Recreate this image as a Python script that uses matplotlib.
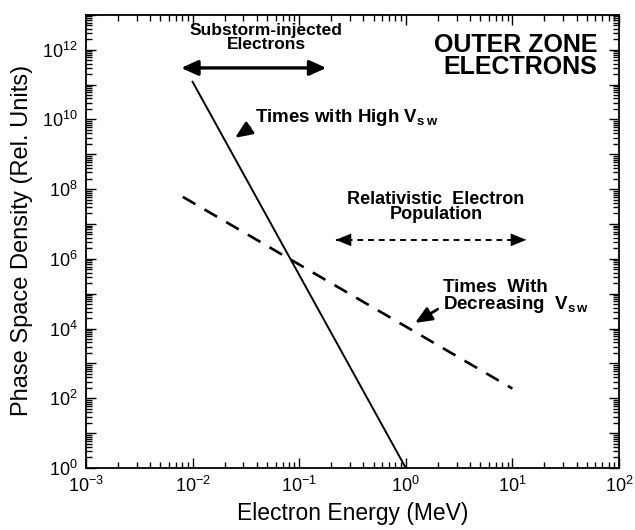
import matplotlib
matplotlib.use("Agg")
import matplotlib.pyplot as plt
import matplotlib.ticker as plticker
import numpy as np

plt.rcParams['font.family'] = ['Liberation Sans', 'DejaVu Sans']
plt.rcParams['mathtext.fontset'] = 'custom'
plt.rcParams['mathtext.rm'] = 'Liberation Sans'
plt.rcParams['mathtext.bf'] = 'Liberation Sans:bold'

# spectra (energy in MeV, phase space density in rel. units)
high_vsw_energy = [0.01, 1.0]
high_vsw_psd = [1.2e11, 1.0]
decr_vsw_energy = [0.0081, 10.0]
decr_vsw_psd = [6e7, 1.9e2]

# energy ranges marked by double arrows
substorm_range = [0.0078, 0.18]
substorm_level = 3e11
relativistic_range = [0.22, 13.5]
relativistic_level = 3.5e6

fig = plt.figure(figsize=(6.35, 5.3), dpi=100)
ax = fig.add_axes([0.1354, 0.117, 0.8394, 0.855])

ax.plot(high_vsw_energy, high_vsw_psd, color='black', lw=1.4)
ax.plot(decr_vsw_energy, decr_vsw_psd, color='black', lw=1.9, dashes=(5.5, 4))

ax.set_xscale('log')
ax.set_yscale('log')
ax.set_xlim(1e-3, 1e2)
ax.set_ylim(1e0, 1e13)

ax.xaxis.set_major_locator(plticker.LogLocator(base=10, numticks=20))
ax.xaxis.set_minor_locator(plticker.LogLocator(base=10, subs=np.arange(2, 10), numticks=50))
ax.yaxis.set_major_locator(plticker.LogLocator(base=10, numticks=30))
ax.yaxis.set_minor_locator(plticker.LogLocator(base=10, subs=np.arange(2, 10), numticks=100))
ax.xaxis.set_minor_formatter(plticker.NullFormatter())
ax.yaxis.set_minor_formatter(plticker.NullFormatter())


def even_power(v, pos):
    p = int(round(np.log10(v)))
    if p % 2:
        return ''
    return r'$10^{%d}$' % p


ax.yaxis.set_major_formatter(plticker.FuncFormatter(even_power))

ax.tick_params(which='both', direction='in', top=True, right=True, width=1.0)
ax.tick_params(which='major', length=7, labelsize=13, pad=6)
ax.tick_params(which='minor', length=4)
for s in ax.spines.values():
    s.set_linewidth(1.3)

ax.set_xlabel('Electron Energy (MeV)', fontsize=16.5, va='center', ha='center')
ax.xaxis.set_label_coords(0.5, -0.1)
ax.set_ylabel('Phase Space Density (Rel. Units)', fontsize=17, va='center', ha='center')
ax.yaxis.set_label_coords(-0.12, 0.503)

# substorm double arrow
ax.annotate('', xy=(substorm_range[0], substorm_level), xytext=(substorm_range[1], substorm_level),
            arrowprops=dict(arrowstyle='<|-|>,head_length=1.0,head_width=0.45', color='black',
                            lw=2.4, shrinkA=0, shrinkB=0))
ax.text(0.0489, 2.25e12, 'Substorm-injected\nElectrons', ha='center', va='center',
        fontsize=12.5, fontweight='bold', linespacing=0.9)

# relativistic dashed double arrow
ax.plot(relativistic_range, [relativistic_level] * 2, color='black', lw=1.4, dashes=(3, 2.5))
mid = np.sqrt(relativistic_range[0] * relativistic_range[1])
for end in relativistic_range:
    ax.annotate('', xy=(end, relativistic_level), xytext=(end * (mid / end) ** 0.13, relativistic_level),
                arrowprops=dict(arrowstyle='-|>,head_length=1.1,head_width=0.45', color='black',
                                lw=0.1, shrinkA=0, shrinkB=0))
ax.text(1.92, 3.1e7, 'Relativistic  Electron\nPopulation', ha='center', va='center',
        fontsize=13, fontweight='bold', linespacing=0.9)

ax.text(0.959, 0.909, 'OUTER ZONE\nELECTRONS', transform=ax.transAxes, ha='right', va='center',
        fontsize=18, fontweight='bold', linespacing=0.92)

ax.annotate(r'Times with High V$_{\mathbf{s\,w}}$', xy=(0.025, 2.95e9), xytext=(0.0385, 1.1e10),
            fontsize=13.5, fontweight='bold', ha='left', va='center',
            arrowprops=dict(arrowstyle='-|>,head_length=0.75,head_width=0.32', color='black',
                            lw=2.0, shrinkA=2, shrinkB=0, relpos=(0, 0.2)))

ax.annotate('Times  With\nDecreasing  V$_{\\mathbf{s\\,w}}$', xy=(1.22, 1.45e4), xytext=(2.23, 8.1e4),
            fontsize=13.5, fontweight='bold', ha='left', va='center', linespacing=0.9,
            arrowprops=dict(arrowstyle='-|>,head_length=0.75,head_width=0.32', color='black',
                            lw=2.0, shrinkA=2, shrinkB=0, relpos=(0, 0.25)))

fig.savefig('out.png', dpi=100)
